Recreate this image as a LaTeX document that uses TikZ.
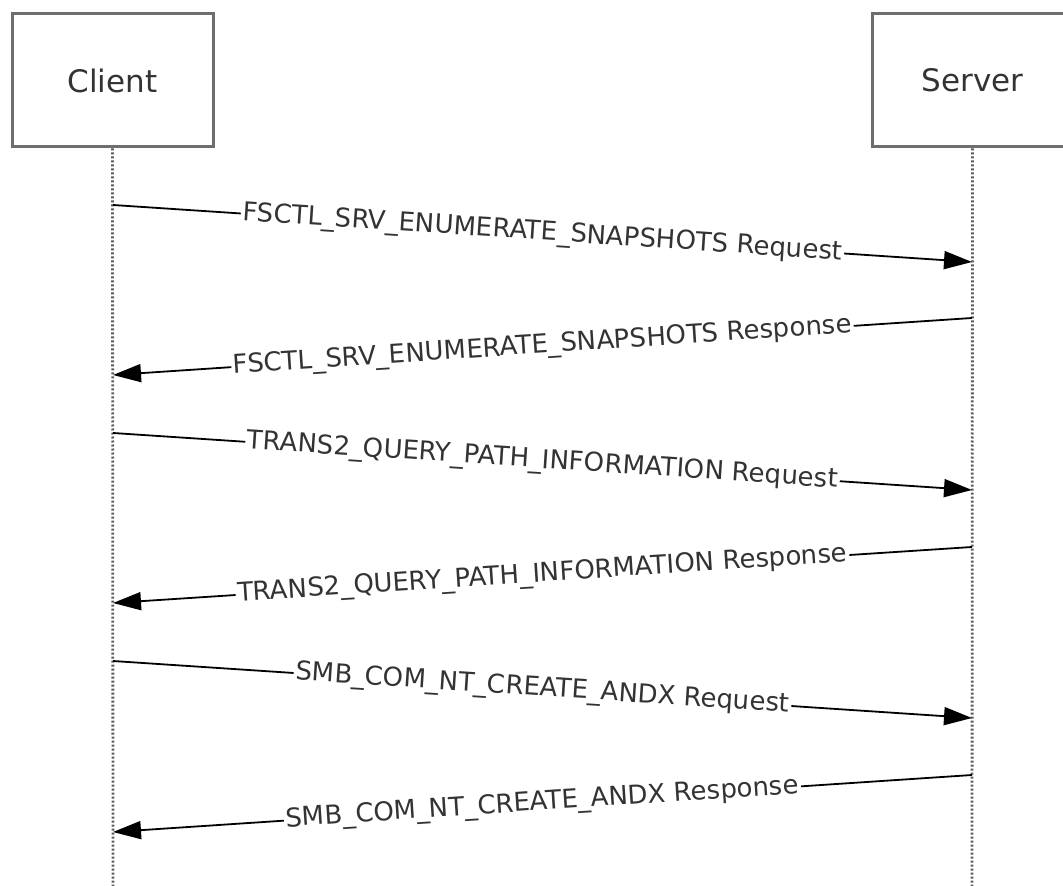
\documentclass[tikz,border=0pt]{standalone}
\usepackage{fontspec}
\setmainfont{DejaVu Sans}
\usetikzlibrary{arrows.meta}
\definecolor{boxgray}{HTML}{6E6E6E}
\definecolor{linegray}{HTML}{5A5A5A}
\definecolor{textgray}{HTML}{333333}
\tikzset{
  party/.style={draw=boxgray, line width=1.5pt, minimum width=100.5pt, minimum height=66.5pt,
    inner sep=0pt, font=\fontsize{15.5}{18}\selectfont, text=textgray},
  lifeline/.style={draw=linegray, line width=1.4pt, dash pattern=on 1pt off 1pt},
  msg/.style={draw=black, line width=0.9pt, -{Triangle[length=14pt,width=9pt]}},
  msglabel/.style={midway, sloped, fill=white, inner sep=1pt,
    font=\fontsize{13}{15}\selectfont, text=textgray}
}
\begin{document}
\begin{tikzpicture}[x=0.5pt, y=-0.5pt, line cap=butt]
    \useasboundingbox (0,0) rectangle (1063,886);

    % Parties
    \node[party] (client) at (112.5,80.5) {Client};
    \node[party] (server) at (972.5,80.5) {Server};

    % Lifelines
    \coordinate (clientEnd) at (113,886);
    \coordinate (serverEnd) at (972,886);
    \draw[lifeline] (client.south) -- (clientEnd);
    \draw[lifeline] (server.south) -- (serverEnd);

    % Message end points
    \coordinate (c1) at (113,205); \coordinate (s1) at (972,262);
    \coordinate (s2) at (972,318); \coordinate (c2) at (113,375);
    \coordinate (c3) at (113,433); \coordinate (s3) at (972,490);
    \coordinate (s4) at (972,547); \coordinate (c4) at (113,603);
    \coordinate (c5) at (113,661); \coordinate (s5) at (972,718);
    \coordinate (s6) at (972,775); \coordinate (c6) at (113,832);

    % Messages
    \draw[msg] (c1) -- node[msglabel] {FSCTL\_SRV\_ENUMERATE\_SNAPSHOTS Request} (s1);
    \draw[msg] (s2) -- node[msglabel] {FSCTL\_SRV\_ENUMERATE\_SNAPSHOTS Response} (c2);
    \draw[msg] (c3) -- node[msglabel] {TRANS2\_QUERY\_PATH\_INFORMATION Request} (s3);
    \draw[msg] (s4) -- node[msglabel] {TRANS2\_QUERY\_PATH\_INFORMATION Response} (c4);
    \draw[msg] (c5) -- node[msglabel] {SMB\_COM\_NT\_CREATE\_ANDX Request} (s5);
    \draw[msg] (s6) -- node[msglabel] {SMB\_COM\_NT\_CREATE\_ANDX Response} (c6);
\end{tikzpicture}
\end{document}
